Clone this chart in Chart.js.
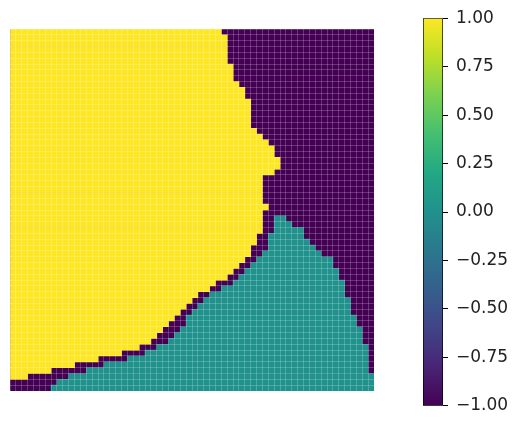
<!DOCTYPE html>
<html>
<head>
<meta charset="utf-8">
<script src="https://cdn.jsdelivr.net/npm/chart.js@4"></script>
<style>
  html, body { margin: 0; padding: 0; background: #fff; }
  #hm { position: absolute; left: 10px; top: 29px; width: 364px; height: 362px; }
  #heat { background: #440154; }
  #cb { position: absolute; left: 423px; top: 0; width: 90px; height: 424px; }
</style>
</head>
<body>
<div id="hm"><canvas id="heat"></canvas></div>
<div id="cb"><canvas id="cbar"></canvas></div>
<script>
// grid size (rows x cols), row 0 = top
const N = 62;

// per row: yellow (+1) runs from col 0 up to yellowEnd
const yellowEnd = [
  36, 37, 37, 37, 37, 37, 38, 38, 38, 39,
  40, 40, 41, 41, 41, 41, 41, 42, 43, 44,
  45, 45, 46, 46, 45, 43, 43, 43, 43, 43,
  44, 43, 43, 43, 43, 42, 42, 41, 41, 40,
  39, 38, 37, 35, 34, 32, 31, 30, 29, 28,
  27, 26, 25, 24, 22, 19, 15, 11, 7, 3,
  0, 0
];

// per row: teal (0) runs from tealStart to tealEnd, null = none
const tealStart = [
  null, null, null, null, null, null, null, null, null, null,
  null, null, null, null, null, null, null, null, null, null,
  null, null, null, null, null, null, null, null, null, null,
  null, null, 45, 45, 45, 44, 44, 44, 43, 42,
  41, 40, 39, 38, 36, 34, 33, 32, 31, 30,
  30, 29, 28, 27, 25, 23, 20, 16, 13, 10,
  8, 7
];
const tealEnd = [
  null, null, null, null, null, null, null, null, null, null,
  null, null, null, null, null, null, null, null, null, null,
  null, null, null, null, null, null, null, null, null, null,
  null, null, 47, 48, 50, 50, 51, 52, 53, 55,
  55, 56, 56, 57, 57, 57, 58, 58, 58, 59,
  59, 60, 60, 60, 61, 61, 61, 61, 61, 62,
  62, 62
];

const cbarTicks = [-1, -0.75, -0.5, -0.25, 0, 0.25, 0.5, 0.75, 1];

// viridis
const viridis = ['#440154', '#482475', '#414487', '#355f8d', '#2a788e', '#21918c',
  '#22a884', '#44bf70', '#7ad151', '#bddf26', '#fde725'];

const rowLabels = yellowEnd.map((_, i) => String(i));

// ========== heatmap ==========
new Chart(document.getElementById('heat'), {
  type: 'bar',
  data: {
    labels: rowLabels,
    datasets: [
      {
        data: yellowEnd.map((e) => (e > 0 ? [0, e] : null)),
        backgroundColor: viridis[10],
      },
      {
        data: tealStart.map((s, i) => (s === null ? null : [s, tealEnd[i]])),
        backgroundColor: viridis[5],
      },
      {
        data: rowLabels.map(() => [0, N]),
        backgroundColor: viridis[0],
      },
    ],
  },
  options: {
    indexAxis: 'y',
    responsive: true,
    maintainAspectRatio: false,
    animation: false,
    layout: { padding: 0 },
    datasets: {
      bar: {
        grouped: false,
        barPercentage: 1,
        categoryPercentage: 1,
        borderWidth: 0,
      },
    },
    plugins: { legend: { display: false }, tooltip: { enabled: false } },
    scales: {
      x: {
        type: 'linear',
        min: 0,
        max: N,
        ticks: { display: false, stepSize: 1 },
        grid: { color: 'rgba(255,255,255,0.2)', drawTicks: false, z: 1 },
        border: { display: false },
      },
      y: {
        type: 'category',
        ticks: { display: false },
        grid: { color: 'rgba(255,255,255,0.2)', drawTicks: false, z: 1 },
        border: { display: false },
      },
    },
  },
});

// ========== colorbar ==========
function viridisGradient(context) {
  const chart = context.chart;
  const area = chart.chartArea;
  if (!area) return viridis[5];
  const g = chart.ctx.createLinearGradient(0, area.bottom, 0, area.top);
  viridis.forEach((c, i) => g.addColorStop(i / (viridis.length - 1), c));
  return g;
}

new Chart(document.getElementById('cbar'), {
  type: 'bar',
  data: {
    labels: ['cbar'],
    datasets: [
      {
        data: [[-1, 1]],
        backgroundColor: viridisGradient,
        borderColor: '#000',
        borderWidth: 1,
        borderSkipped: false,
        barPercentage: 1,
        categoryPercentage: 1,
      },
    ],
  },
  options: {
    responsive: true,
    maintainAspectRatio: false,
    animation: false,
    layout: { padding: { top: 10, bottom: 15, left: 0, right: 0 } },
    plugins: { legend: { display: false }, tooltip: { enabled: false } },
    scales: {
      x: { display: false },
      y: {
        position: 'right',
        min: -1,
        max: 1,
        afterFit: (scale) => { scale.width = 70; },
        afterBuildTicks: (scale) => { scale.ticks = cbarTicks.map((v) => ({ value: v })); },
        ticks: {
          color: '#222',
          padding: 8,
          font: { family: 'DejaVu Sans', size: 17 },
          callback: (v) => Number(v).toFixed(2).replace('-', '\u2212'),
        },
        grid: { drawOnChartArea: false, color: '#000', tickLength: 5 },
        border: { display: false },
      },
    },
  },
});
</script>
</body>
</html>
